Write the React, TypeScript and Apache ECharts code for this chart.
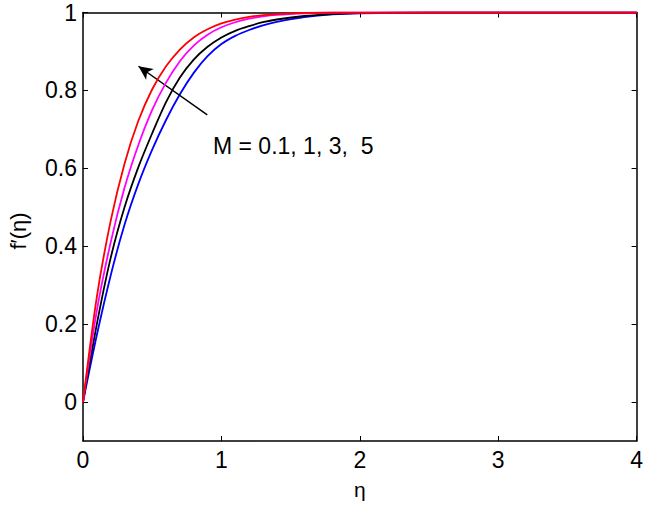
import React, { useEffect, useRef } from "react";
import * as echarts from "echarts";

const eta = [0, 0.1, 0.2, 0.3, 0.4, 0.5, 0.6, 0.7, 0.8, 0.9, 1.0, 1.1, 1.2, 1.3, 1.4, 1.6, 1.8, 2.0, 2.5, 3.0, 4.0];
const fRed = [0, 0.27, 0.465, 0.612, 0.722, 0.803, 0.862, 0.905, 0.936, 0.957, 0.972, 0.982, 0.989, 0.993, 0.996, 0.999, 1.0, 1.0, 1.0, 1.0, 1.0];
const fMagenta = [0, 0.235, 0.41, 0.55, 0.66, 0.75, 0.82, 0.875, 0.915, 0.943, 0.962, 0.975, 0.984, 0.99, 0.994, 0.998, 1.0, 1.0, 1.0, 1.0, 1.0];
const fBlack = [0, 0.2, 0.37, 0.5, 0.603, 0.69, 0.77, 0.833, 0.879, 0.912, 0.936, 0.953, 0.965, 0.975, 0.982, 0.991, 0.996, 0.999, 1.0, 1.0, 1.0];
const fBlue = [0, 0.172, 0.325, 0.455, 0.56, 0.648, 0.724, 0.79, 0.845, 0.888, 0.919, 0.94, 0.955, 0.967, 0.976, 0.988, 0.995, 0.998, 1.0, 1.0, 1.0];

const seriesNames = ["M = 0.1", "M = 1", "M = 3", "M = 5"];
const seriesColors = ["#0000ff", "#000000", "#ff00ff", "#ff0000"];
const seriesValues = [fBlue, fBlack, fMagenta, fRed];

const xTicks = [0, 1, 2, 3, 4];
const yTicks = [0, 0.2, 0.4, 0.6, 0.8, 1];
const arrowFrom = [0.898, 0.737];
const arrowTo = [0.401, 0.862];
const annotation = "M = 0.1, 1, 3,  5";

const FONT = "Liberation Sans, Arial, Helvetica, sans-serif";

export default function App() {
  const ref = useRef<HTMLDivElement>(null);
  useEffect(() => {
    if (!ref.current) return;
    const chart = echarts.init(ref.current, null, { renderer: "svg" });
    const axisLine = { show: true, onZero: false, lineStyle: { color: "#000", width: 1.5 } };
    const tick = { show: true, inside: true, length: 5, lineStyle: { color: "#000", width: 1 } };
    const series: any[] = seriesValues.map((vals, i) => ({
      name: seriesNames[i],
      type: "line",
      xAxisIndex: 0,
      yAxisIndex: 0,
      data: eta.map((x, j) => [x, vals[j]]),
      showSymbol: false,
      smooth: 0.3,
      lineStyle: { color: seriesColors[i], width: 1.8 },
      itemStyle: { color: seriesColors[i] },
      z: 3 + i,
    }));
    series.push({
      type: "line",
      xAxisIndex: 0,
      yAxisIndex: 0,
      data: [],
      markLine: {
        silent: true,
        symbol: ["none", "arrow"],
        symbolSize: [10, 14],
        label: { show: false },
        lineStyle: { color: "#000", width: 1.5, type: "solid" },
        data: [[{ coord: arrowFrom }, { coord: arrowTo }]],
      },
    });
    chart.setOption({
      animation: false,
      backgroundColor: "#fff",
      grid: { left: 83, right: 7, top: 12.5, bottom: 58.5, containLabel: false },
      xAxis: [
        {
          type: "value",
          min: 0,
          max: 4,
          interval: 1,
          name: "η",
          nameLocation: "middle",
          nameGap: 38,
          nameTextStyle: { fontFamily: FONT, fontSize: 21, color: "#000" },
          axisLine,
          axisTick: { ...tick, customValues: xTicks },
          axisLabel: { fontFamily: FONT, fontSize: 23, color: "#000", margin: 7, customValues: xTicks },
          splitLine: { show: false },
        },
        {
          type: "value",
          position: "top",
          min: 0,
          max: 4,
          interval: 1,
          axisLine,
          axisTick: { ...tick, customValues: xTicks },
          axisLabel: { show: false },
          splitLine: { show: false },
        },
      ],
      yAxis: [
        {
          type: "value",
          min: -0.1,
          max: 1,
          axisLine,
          axisTick: { ...tick, customValues: yTicks },
          axisLabel: { fontFamily: FONT, fontSize: 23, color: "#000", margin: 6, customValues: yTicks },
          splitLine: { show: false },
        },
        {
          type: "value",
          position: "right",
          min: -0.1,
          max: 1,
          axisLine,
          axisTick: { ...tick, customValues: yTicks },
          axisLabel: { show: false, customValues: yTicks },
          splitLine: { show: false },
        },
      ],
      series,
      graphic: [
        {
          type: "text",
          left: 213,
          top: 134,
          style: { text: annotation, fontFamily: FONT, fontSize: 23, fill: "#000" },
        },
        {
          type: "text",
          x: 18,
          y: 231,
          rotation: Math.PI / 2,
          style: {
            text: "f′(η)",
            fontFamily: FONT,
            fontSize: 22,
            fill: "#000",
            align: "center",
            verticalAlign: "middle",
          },
        },
      ],
    });
    return () => chart.dispose();
  }, []);
  return (
    <div
      ref={ref}
      style={{ position: "fixed", left: 0, top: 0, width: 646, height: 505, background: "#fff" }}
    />
  );
}
